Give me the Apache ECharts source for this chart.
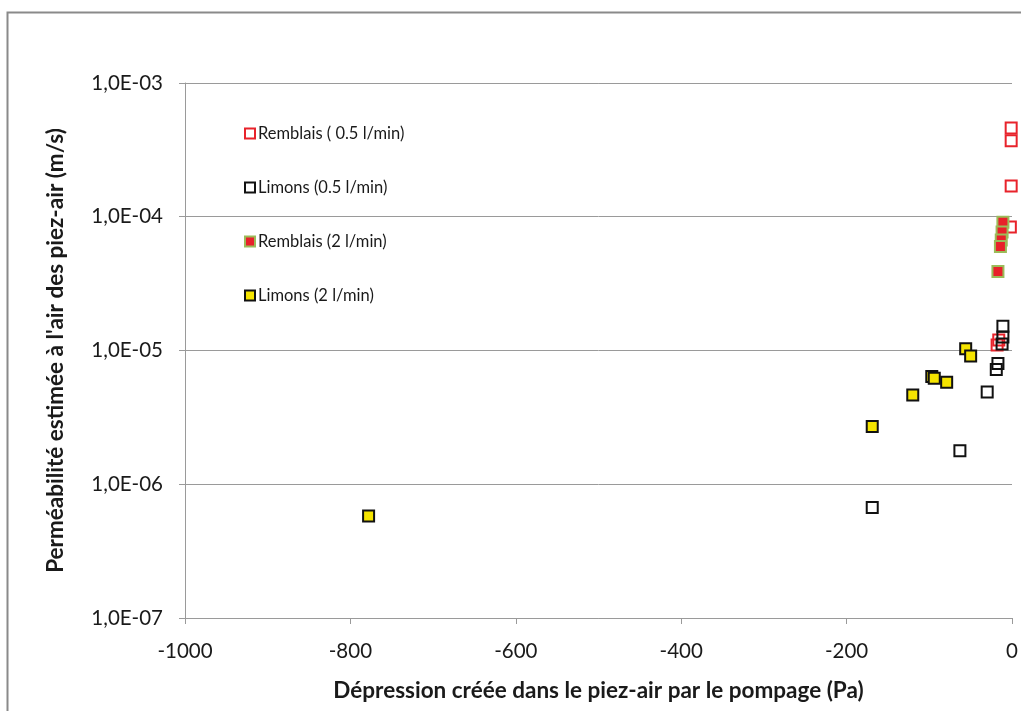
<!DOCTYPE html>
<html>
<head>
<meta charset="utf-8">
<script src="https://cdn.jsdelivr.net/npm/echarts@6/dist/echarts.min.js"></script>
<style>
  html, body { margin: 0; padding: 0; background: #fff; }
  #chart { width: 1021px; height: 711px; }
</style>
</head>
<body>
<div id="chart"></div>
<script>
// Series names as shown in the legend
const seriesNames = ['Remblais ( 0.5 l/min)', 'Limons (0.5 l/min)', 'Remblais (2 l/min)', 'Limons (2 l/min)'];

// [depression (Pa), permeability (m/s)]
const remblais05 = [[-1, 4.6e-4], [-1, 3.7e-4], [-1, 1.7e-4], [-2, 8.4e-5], [-16, 1.2e-5], [-18, 1.1e-5]];
const limons05 = [[-11, 1.52e-5], [-11, 1.26e-5], [-12, 1.12e-5], [-17, 8.0e-6], [-19, 7.2e-6], [-30, 4.9e-6], [-63, 1.78e-6], [-169, 6.7e-7]];
const remblais2 = [[-11, 9.1e-5], [-12, 7.7e-5], [-13, 6.7e-5], [-14, 6.0e-5], [-17, 3.9e-5]];
const limons2 = [[-778, 5.8e-7], [-169, 2.7e-6], [-120, 4.65e-6], [-97, 6.4e-6], [-94, 6.2e-6], [-79, 5.8e-6], [-56, 1.03e-5], [-50, 9.1e-6]];

// Axis tick labels
const xTicks = [-1000, -800, -600, -400, -200, 0];
const yTickLabels = { '-7': '1,0E-07', '-6': '1,0E-06', '-5': '1,0E-05', '-4': '1,0E-04', '-3': '1,0E-03' };

const FONT = 'Lato, "Open Sans", sans-serif';

const chart = echarts.init(document.getElementById('chart'));
chart.setOption({
  backgroundColor: '#ffffff',
  animation: false,
  textStyle: { fontFamily: FONT },
  graphic: [{
    type: 'rect',
    left: 5, top: 10,
    shape: { width: 1100, height: 800 },
    style: { fill: 'none', stroke: '#8a8a8a', lineWidth: 2 },
    z: 0
  }],
  grid: { left: 185, right: 9, top: 83, bottom: 93, containLabel: false },
  legend: {
    orient: 'vertical',
    left: 239, top: 120,
    itemWidth: 10, itemHeight: 10,
    itemGap: 37,
    icon: 'rect',
    textStyle: { fontFamily: FONT, fontSize: 16.5, color: '#1a1a1a', lineHeight: 12, padding: [0, 0, 0, -2] },
    data: seriesNames
  },
  xAxis: {
    type: 'value',
    min: -1000, max: 0, interval: 200,
    name: 'Dépression créée dans le piez-air par le pompage (Pa)',
    nameLocation: 'middle',
    nameGap: 61,
    nameTextStyle: { fontFamily: FONT, fontSize: 22.5, fontWeight: 'bold', color: '#1a1a1a' },
    axisLine: { onZero: false, lineStyle: { color: '#9a9a9a', width: 1 } },
    axisTick: { show: true, inside: false, length: 6, lineStyle: { color: '#9a9a9a' } },
    axisLabel: {
      fontFamily: FONT, fontSize: 20.5, color: '#1a1a1a', margin: 23,
      formatter: v => xTicks.indexOf(v) >= 0 ? String(v) : ''
    },
    splitLine: { show: false }
  },
  yAxis: {
    type: 'log',
    logBase: 10,
    min: 1e-7, max: 1e-3,
    splitNumber: 4,
    name: "Perméabilité estimée à l'air des piez-air (m/s)",
    nameLocation: 'middle',
    nameGap: 118,
    nameTextStyle: { fontFamily: FONT, fontSize: 22.5, fontWeight: 'bold', color: '#1a1a1a' },
    axisLine: { show: true, onZero: false, lineStyle: { color: '#9a9a9a', width: 1 } },
    axisTick: { show: true, inside: false, length: 6, lineStyle: { color: '#9a9a9a' } },
    axisLabel: {
      fontFamily: FONT, fontSize: 20.5, color: '#1a1a1a', margin: 22,
      formatter: v => yTickLabels[String(Math.round(Math.log10(v)))] || ''
    },
    splitLine: { show: true, lineStyle: { color: '#9a9a9a', width: 1 } }
  },
  series: [
    {
      name: seriesNames[0], type: 'scatter', symbol: 'rect', symbolSize: 11,
      itemStyle: { color: 'rgba(255,255,255,0)', borderColor: '#e8232b', borderWidth: 2, opacity: 1 },
      data: remblais05, z: 2
    },
    {
      name: seriesNames[1], type: 'scatter', symbol: 'rect', symbolSize: 11,
      itemStyle: { color: 'rgba(255,255,255,0)', borderColor: '#111111', borderWidth: 2, opacity: 1 },
      data: limons05, z: 3
    },
    {
      name: seriesNames[2], type: 'scatter', symbol: 'rect', symbolSize: 11,
      itemStyle: { color: '#e8202a', borderColor: '#9bbb59', borderWidth: 2, opacity: 1 },
      data: remblais2, z: 4
    },
    {
      name: seriesNames[3], type: 'scatter', symbol: 'rect', symbolSize: 11,
      itemStyle: { color: '#f5e400', borderColor: '#111111', borderWidth: 2, opacity: 1 },
      data: limons2, z: 5
    }
  ]
});
</script>
</body>
</html>
